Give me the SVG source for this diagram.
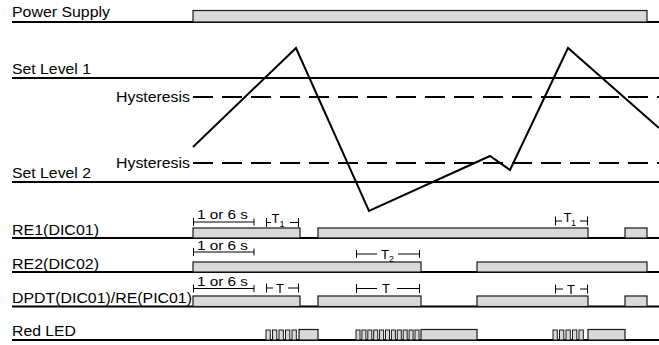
<svg xmlns="http://www.w3.org/2000/svg" width="659" height="345" viewBox="0 0 659 345">
<style>
  .lbl { font-family: "Liberation Sans", Arial, sans-serif; font-size: 15px; fill: #000; }
  .ann { font-family: "Liberation Sans", Arial, sans-serif; font-size: 13px; fill: #000; }
  .sub { font-family: "Liberation Sans", Arial, sans-serif; font-size: 9px; fill: #000; }
  .base { stroke: #000; stroke-width: 2; fill: none; }
  .lvl { stroke: #000; stroke-width: 1.8; fill: none; }
  .dash { stroke: #000; stroke-width: 1.8; fill: none; stroke-dasharray: 20 9; }
  .box { fill: #d9d9d9; stroke: #1a1a1a; stroke-width: 1.2; }
  .pulse { fill: #d9d9d9; stroke: #1a1a1a; stroke-width: 1; }
  .br { stroke: #000; stroke-width: 1; fill: none; }
  .wave { stroke: #000; stroke-width: 2; fill: none; stroke-linejoin: miter; }
</style>
<rect width="659" height="345" fill="#fff"/>

<g id="power-supply">
  <text class="lbl" x="12" y="17" textLength="98" lengthAdjust="spacingAndGlyphs">Power Supply</text>
  <line class="base" x1="12" y1="22" x2="659" y2="22"/>
  <rect class="box" x="193" y="10.5" width="454" height="11.5"/>
</g>

<g id="levels">
  <text class="lbl" x="12" y="74" textLength="79" lengthAdjust="spacingAndGlyphs">Set Level 1</text>
  <line class="lvl" x1="12" y1="78" x2="659" y2="78"/>
  <text class="lbl" x="116" y="101.5" textLength="74" lengthAdjust="spacingAndGlyphs">Hysteresis</text>
  <line class="dash" x1="193" y1="97" x2="659" y2="97"/>
  <text class="lbl" x="116" y="168" textLength="74" lengthAdjust="spacingAndGlyphs">Hysteresis</text>
  <line class="dash" x1="193" y1="163" x2="659" y2="163"/>
  <text class="lbl" x="12" y="178" textLength="79" lengthAdjust="spacingAndGlyphs">Set Level 2</text>
  <line class="lvl" x1="12" y1="182" x2="659" y2="182"/>
  <polyline class="wave" points="193,147 296,48 369,211 490,156 510,170 568,48 659,128"/>
</g>

<g id="re1">
  <text class="lbl" x="12" y="235" textLength="87" lengthAdjust="spacingAndGlyphs">RE1(DIC01)</text>
  <line class="base" x1="12" y1="238" x2="659" y2="238"/>
  <rect class="box" x="193" y="228" width="107" height="10"/>
  <rect class="box" x="318" y="228" width="270" height="10"/>
  <rect class="box" x="625" y="228" width="22" height="10"/>
  <text class="ann" x="197" y="219" textLength="51" lengthAdjust="spacingAndGlyphs">1 or 6 s</text>
  <path class="br" d="M193.5,218 V226 M193.5,222 H254 M254,218.5 V225.5"/>
  <path class="br" d="M266.5,218 V227 M266.5,222.5 H271 M290,222.5 H298.5 M298.5,218 V227"/>
  <text class="ann" x="271.5" y="222.5">T</text>
  <text class="sub" x="279.5" y="226.5">1</text>
  <path class="br" d="M555.5,216.5 V225.5 M555.5,221 H562 M580,221 H587.5 M587.5,216.5 V225.5"/>
  <text class="ann" x="563.5" y="222">T</text>
  <text class="sub" x="571" y="226">1</text>
</g>

<g id="re2">
  <text class="lbl" x="12" y="269" textLength="87" lengthAdjust="spacingAndGlyphs">RE2(DIC02)</text>
  <line class="base" x1="12" y1="272" x2="659" y2="272"/>
  <rect class="box" x="193" y="262" width="228" height="10"/>
  <rect class="box" x="477" y="262" width="170" height="10"/>
  <text class="ann" x="197" y="250" textLength="51" lengthAdjust="spacingAndGlyphs">1 or 6 s</text>
  <path class="br" d="M193.5,248 V256 M193.5,252 H254 M254,248.5 V255.5"/>
  <path class="br" d="M356.5,250 V258 M356.5,254 H377 M398,254 H419.5 M419.5,250 V258"/>
  <text class="ann" x="381" y="258.5">T</text>
  <text class="sub" x="389" y="261.5">2</text>
</g>

<g id="dpdt">
  <text class="lbl" x="12" y="303" textLength="180" lengthAdjust="spacingAndGlyphs">DPDT(DIC01)/RE(PIC01)</text>
  <line class="base" x1="12" y1="306.5" x2="659" y2="306.5"/>
  <rect class="box" x="193" y="296" width="107" height="10.5"/>
  <rect class="box" x="318" y="296" width="103" height="10.5"/>
  <rect class="box" x="477" y="296" width="111" height="10.5"/>
  <rect class="box" x="625" y="296" width="22" height="10.5"/>
  <text class="ann" x="197" y="286" textLength="51" lengthAdjust="spacingAndGlyphs">1 or 6 s</text>
  <path class="br" d="M193.5,284.5 V292.5 M193.5,288.5 H254 M254,285 V292"/>
  <path class="br" d="M266.5,283.5 V292.5 M266.5,288 H273 M288,288 H298.5 M298.5,283.5 V292.5"/>
  <text class="ann" x="276" y="292.5">T</text>
  <path class="br" d="M356.5,284 V293 M356.5,288.5 H377 M397,288.5 H419.5 M419.5,284 V293"/>
  <text class="ann" x="382" y="293">T</text>
  <path class="br" d="M555.5,284.5 V293.5 M555.5,289 H563 M580,289 H587.5 M587.5,284.5 V293.5"/>
  <text class="ann" x="567" y="293.5">T</text>
</g>

<g id="red-led">
  <text class="lbl" x="12" y="336" textLength="64" lengthAdjust="spacingAndGlyphs">Red LED</text>
  <line class="base" x1="12" y1="340" x2="659" y2="340"/>
  <rect class="pulse" x="266" y="330" width="4.3" height="10"/>
  <rect class="pulse" x="272.5" y="330" width="4.3" height="10"/>
  <rect class="pulse" x="279" y="330" width="4.3" height="10"/>
  <rect class="pulse" x="285.5" y="330" width="4.3" height="10"/>
  <rect class="pulse" x="292" y="330" width="4.3" height="10"/>
  <rect class="box" x="299" y="329.5" width="19" height="10.5"/>
  <rect class="pulse" x="356" y="330" width="4" height="10"/>
  <rect class="pulse" x="361.9" y="330" width="4" height="10"/>
  <rect class="pulse" x="367.8" y="330" width="4" height="10"/>
  <rect class="pulse" x="373.7" y="330" width="4" height="10"/>
  <rect class="pulse" x="379.6" y="330" width="4" height="10"/>
  <rect class="pulse" x="385.5" y="330" width="4" height="10"/>
  <rect class="pulse" x="391.4" y="330" width="4" height="10"/>
  <rect class="pulse" x="397.3" y="330" width="4" height="10"/>
  <rect class="pulse" x="403.2" y="330" width="4" height="10"/>
  <rect class="pulse" x="409.1" y="330" width="4" height="10"/>
  <rect class="pulse" x="415" y="330" width="4" height="10"/>
  <rect class="box" x="421" y="329.5" width="56" height="10.5"/>
  <rect class="pulse" x="553" y="330" width="4.3" height="10"/>
  <rect class="pulse" x="559.5" y="330" width="4.3" height="10"/>
  <rect class="pulse" x="566" y="330" width="4.3" height="10"/>
  <rect class="pulse" x="572.5" y="330" width="4.3" height="10"/>
  <rect class="pulse" x="579" y="330" width="4.3" height="10"/>
  <rect class="box" x="588" y="329.5" width="37" height="10.5"/>
</g>
</svg>
